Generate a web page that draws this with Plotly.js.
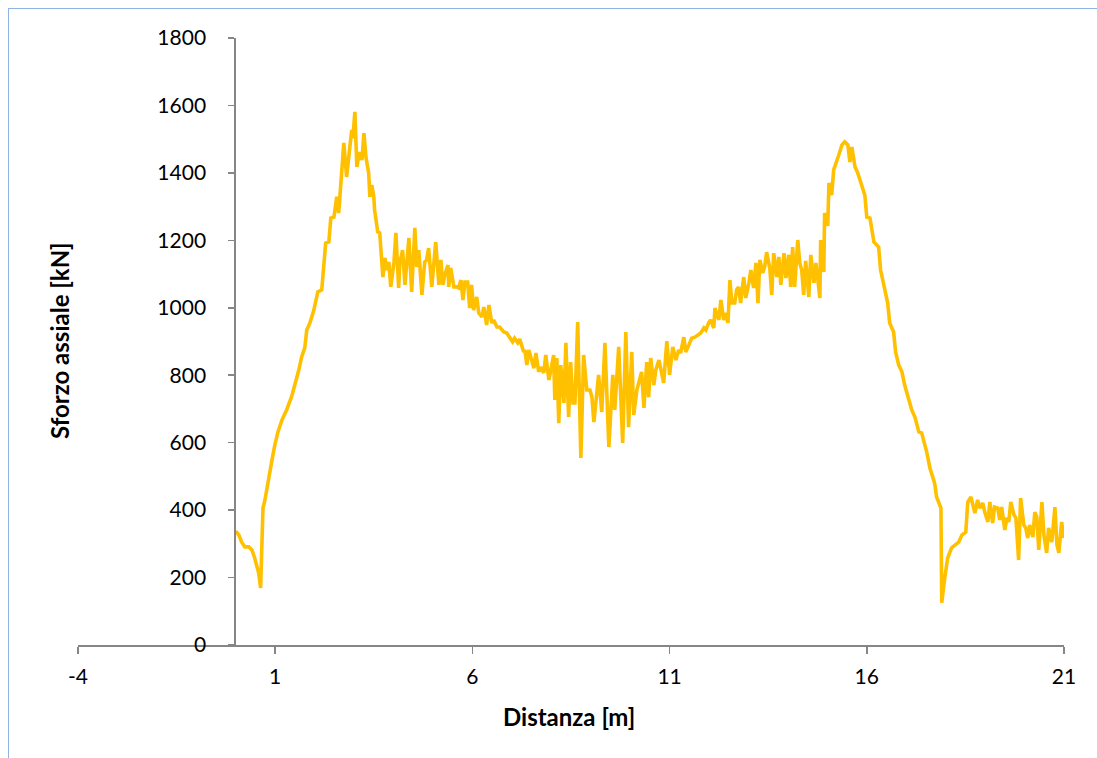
<!DOCTYPE html>
<html><head><meta charset="utf-8">
<script src="https://cdn.plot.ly/plotly-3.0.1.min.js"></script>
<style>
html,body{margin:0;padding:0;background:#fff;}
#frame{position:absolute;left:8px;top:8px;width:1100px;height:760px;border:1.5px solid #8DB4E2;box-sizing:border-box;}
#chart{position:absolute;left:0;top:0;width:1097px;height:758px;}
</style></head>
<body><div id="frame"></div><div id="chart"></div>
<script>
const distanza = [
0,0.08,0.15,0.23,0.33,0.41,0.48,0.58,0.63,0.69,
0.74,0.84,0.91,0.99,1.07,1.17,1.29,1.42,1.50,1.60,
1.67,1.75,1.80,1.88,1.98,2.08,2.18,2.28,2.36,2.41,
2.49,2.56,2.61,2.69,2.74,2.81,2.87,2.94,2.97,3.02,
3.07,3.14,3.20,3.25,3.30,3.37,3.40,3.45,3.50,3.52,
3.60,3.65,3.73,3.78,3.83,3.88,3.93,4.01,4.06,4.13,
4.16,4.23,4.29,4.34,4.39,4.46,4.54,4.59,4.64,4.72,
4.79,4.84,4.89,4.97,5.02,5.07,5.15,5.20,5.25,5.30,
5.38,5.40,5.45,5.53,5.60,5.65,5.71,5.76,5.81,5.88,
5.93,5.98,6.03,6.11,6.16,6.24,6.29,6.36,6.42,6.49,
6.54,6.62,6.69,6.80,6.87,6.95,7.02,7.07,7.15,7.20,
7.30,7.33,7.38,7.43,7.51,7.56,7.61,7.68,7.73,7.81,
7.86,7.94,7.99,8.06,8.09,8.14,8.19,8.24,8.32,8.37,
8.44,8.49,8.55,8.60,8.67,8.75,8.82,8.90,8.98,9.03,
9.08,9.15,9.20,9.28,9.36,9.41,9.46,9.56,9.61,9.71,
9.76,9.81,9.89,9.96,10.04,10.09,10.17,10.22,10.29,10.35,
10.42,10.47,10.52,10.60,10.65,10.73,10.78,10.85,10.93,11.00,
11.08,11.16,11.23,11.28,11.36,11.41,11.49,11.56,11.64,11.74,
11.79,11.87,11.92,11.99,12.04,12.12,12.15,12.22,12.25,12.30,
12.37,12.42,12.48,12.53,12.58,12.65,12.70,12.75,12.80,12.88,
12.93,13.01,13.06,13.13,13.19,13.24,13.29,13.36,13.41,13.46,
13.54,13.59,13.64,13.72,13.77,13.82,13.90,13.95,14.02,14.07,
14.12,14.17,14.25,14.30,14.35,14.40,14.45,14.53,14.58,14.66,
14.71,14.76,14.81,14.83,14.91,14.93,15.01,15.04,15.11,15.16,
15.24,15.29,15.37,15.44,15.52,15.57,15.62,15.70,15.77,15.85,
15.95,16.00,16.08,16.18,16.30,16.35,16.46,16.53,16.58,16.68,
16.73,16.81,16.89,16.96,17.14,17.22,17.32,17.39,17.52,17.60,
17.72,17.77,17.88,17.90,17.98,18.05,18.15,18.26,18.33,18.41,
18.51,18.56,18.64,18.74,18.81,18.86,18.94,18.99,19.07,19.12,
19.19,19.24,19.32,19.37,19.42,19.50,19.55,19.60,19.65,19.73,
19.78,19.85,19.90,19.98,20.03,20.08,20.13,20.21,20.26,20.31,
20.36,20.44,20.49,20.56,20.61,20.69,20.77,20.82,20.87,20.94,
21.0
];
const sforzo = [
338,326,305,291,291,282,258,214,169,406,
430,489,543,593,632,667,697,738,771,816,
854,881,934,955,993,1047,1053,1192,1195,1266,
1269,1329,1281,1418,1489,1388,1459,1527,1503,1581,
1418,1462,1438,1518,1447,1400,1329,1364,1329,1290,
1225,1222,1091,1148,1112,1136,1062,1133,1222,1059,
1133,1171,1068,1136,1207,1047,1237,1121,1171,1038,
1136,1142,1177,1062,1136,1195,1068,1142,1068,1097,
1127,1062,1118,1062,1062,1059,1082,1023,1076,1076,
999,1068,993,1032,985,973,1002,949,1008,955,
964,943,943,928,925,910,899,910,896,907,
869,875,830,875,845,821,866,810,824,807,
860,786,816,860,727,851,658,830,718,896,
676,839,718,718,958,555,860,756,756,735,
661,750,801,691,896,741,587,801,697,884,
727,599,928,646,869,682,756,777,810,703,
839,735,851,771,816,845,816,777,901,801,
884,845,875,866,913,869,890,910,913,919,
925,940,934,955,964,940,999,973,964,1023,
964,985,955,1082,1014,1014,1053,1062,1014,1091,
1029,1074,1112,1059,1133,1014,1142,1103,1121,1165,
1118,1038,1162,1091,1151,1068,1162,1088,1157,1062,
1180,1062,1201,1133,1112,1038,1139,1032,1157,1074,
1133,1082,1029,1201,1106,1281,1243,1370,1334,1409,
1432,1453,1483,1492,1483,1432,1477,1418,1400,1373,
1334,1269,1266,1195,1180,1112,1044,1014,955,928,
869,830,810,771,697,676,632,629,572,525,
480,439,406,125,202,258,288,297,305,326,
335,424,439,391,430,406,421,394,365,424,
362,409,406,371,409,341,377,365,424,386,
377,252,436,356,347,317,356,320,394,380,
282,424,326,273,347,305,409,297,273,365,
317
];
const xTickVals = [-4, 1, 6, 11, 16, 21];
const xTickText = ['-4', '1', '6', '11', '16', '21'];
const yTickVals = [0, 200, 400, 600, 800, 1000, 1200, 1400, 1600, 1800];
const yTickText = ['0', '200', '400', '600', '800', '1000', '1200', '1400', '1600', '1800'];
const xTitle = 'Distanza [m]';
const yTitle = 'Sforzo assiale [kN]';

const axisGrey = '#868686';
const tickFont = {family: 'Lato, "Open Sans", sans-serif', size: 21, color: '#000'};
const titleFont = {family: 'Lato, "Open Sans", sans-serif', size: 24, color: '#000', weight: 'bold'};

const trace = {
  x: distanza, y: sforzo, type: 'scatter', mode: 'lines',
  line: {color: '#FFC000', width: 3.6}, hoverinfo: 'skip'
};

const layout = {
  width: 1097, height: 758,
  margin: {l: 78, r: 33, t: 38, b: 113},
  paper_bgcolor: 'rgba(0,0,0,0)', plot_bgcolor: 'rgba(0,0,0,0)',
  showlegend: false,
  xaxis: {
    range: [-4, 21], tickmode: 'array', tickvals: xTickVals, ticktext: xTickText,
    showgrid: false, zeroline: false, showline: true,
    linecolor: axisGrey, linewidth: 1.5,
    ticks: 'outside', ticklen: 7, tickwidth: 1.5, tickcolor: axisGrey,
    tickfont: tickFont, ticklabelstandoff: 5
  },
  yaxis: {
    range: [0, 1800], tickmode: 'array', tickvals: yTickVals, ticktext: yTickText,
    anchor: 'free', position: 0.1585,
    showgrid: false, zeroline: false, showline: true,
    linecolor: axisGrey, linewidth: 1.5,
    ticks: 'outside', ticklen: 6, tickwidth: 1.5, tickcolor: axisGrey,
    tickfont: tickFont, ticklabelstandoff: 18
  },
  annotations: [
    {text: xTitle, xref: 'paper', yref: 'paper', x: 0.498, y: -0.117,
     showarrow: false, font: titleFont, xanchor: 'center', yanchor: 'middle'},
    {text: yTitle, xref: 'paper', yref: 'paper', x: -0.0183, y: 0.5025,
     showarrow: false, font: titleFont, textangle: -90, xanchor: 'center', yanchor: 'middle'}
  ]
};

Plotly.newPlot('chart', [trace], layout, {staticPlot: true, displayModeBar: false});
</script>
</body></html>
